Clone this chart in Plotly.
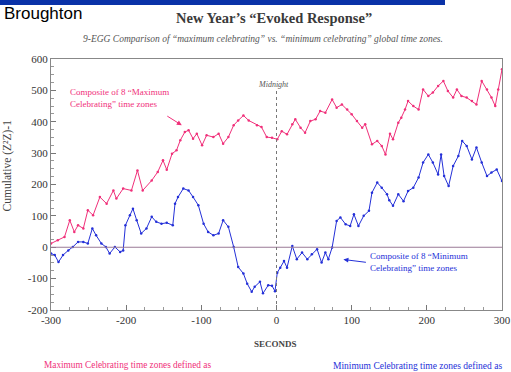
import plotly.graph_objects as go

# ---- data ----
max_x = [-300, -291, -282, -275, -269, -264, -257, -251, -244, -235, -226, -217, -213, -204, -193,
         -185, -178, -166, -158, -151, -146, -139, -133, -128, -122, -117, -111, -106, -99, -93,
         -84, -77, -71, -64, -57, -51, -44, -37, -26, -20, -13, -6, 1, 7, 14, 21, 25, 32, 38,
         45, 52, 58, 65, 74, 80, 87, 94, 100, 107, 114, 118, 127, 134, 140, 145, 151, 155, 162,
         166, 171, 175, 182, 189, 195, 202, 208, 215, 222, 228, 235, 240, 246, 253, 260, 266,
         273, 280, 286, 291, 295, 300]
max_y = [12, 22, 33, 86, 49, 70, 60, 118, 102, 160, 139, 181, 155, 187, 181,
         245, 181, 213, 240, 277, 247, 298, 309, 341, 367, 373, 346, 362, 325, 357,
         351, 362, 330, 351, 389, 404, 420, 404, 389, 383, 351, 349, 344, 370, 360, 392, 408, 381, 365,
         402, 408, 434, 429, 471, 445, 455, 439, 424, 402, 381, 392, 328, 339, 323, 296, 362, 344, 397,
         413, 439, 466, 450, 439, 503, 482, 493, 514, 530, 498, 477, 503, 482, 477, 466, 455,
         530, 503, 477, 450, 503, 567]

min_x = [-300, -295, -290, -284, -277, -271, -264, -257, -251, -245, -240, -233, -227, -222, -215,
         -208, -204, -201, -195, -191, -186, -180, -173, -166, -160, -153, -146, -138, -135, -131,
         -124, -117, -111, -104, -97, -91, -84, -77, -71, -64, -57, -51, -44, -39, -33, -29, -22,
         -18, -11, -6, -2, 1, 5, 10, 14, 21, 27, 34, 41, 47, 54, 60, 65, 69, 74, 80, 85, 92, 98,
         103, 109, 116, 123, 127, 134, 140, 147, 150, 155, 162, 169, 175, 182, 189, 195, 202, 208,
         215, 219, 223, 229, 235, 242, 247, 253, 260, 266, 273, 280, 286, 293, 300]
min_y = [-20, -25, -47, -25, -10, 1, 17, 17, 12, 60, 38, 12, 1, -20, 1,
         -15, -10, 70, 102, 123, 86, 44, 60, 97, 81, 75, 78, 70, 139, 160,
         187, 181, 160, 134, 75, 49, 38, 44, 86, 65, 1, -63, -84, -116, -142, -126, -110,
         -147, -121, -123, -140, -81, -65, -44, -65, 4, -38, -17, -38, -22, -6, -49, -17, -38, -1, 84, 95, 73, 68,
         105, 68, 100, 116, 174, 206, 190, 169, 150, 132, 169, 147, 179, 190, 222, 270, 296, 270,
         232, 296, 227, 195, 259, 291, 339, 323, 280, 318, 270, 227, 238, 248, 211]

x_ticks = [-300, -200, -100, 0, 100, 200, 300]
x_tick_labels = ["-300", "-200", "-100", "0", "100", "200", "300"]
y_ticks = [-200, -100, 0, 100, 200, 300, 400, 500, 600]
y_tick_labels = ["-200", "-100", "0", "100", "200", "300", "400", "500", "600"]

PINK = "#f0307a"
BLUE = "#2430d8"
SERIF = "Liberation Serif"

fig = go.Figure()
fig.add_trace(go.Scatter(x=max_x, y=max_y, mode="lines+markers",
                         line=dict(color=PINK, width=1), marker=dict(color=PINK, size=2.5),
                         showlegend=False, hoverinfo="skip"))
fig.add_trace(go.Scatter(x=min_x, y=min_y, mode="lines+markers",
                         line=dict(color=BLUE, width=1), marker=dict(color=BLUE, size=2.5),
                         showlegend=False, hoverinfo="skip"))

axis_common = dict(showline=True, mirror=True, linecolor="#888", linewidth=1, automargin=False,
                   ticks="inside", ticklen=5, tickcolor="#777", showgrid=False, zeroline=False,
                   tickfont=dict(family=SERIF, size=11, color="#333"),
                   minor=dict(ticks="inside", ticklen=3, tickcolor="#999", dtick=25))

fig.update_layout(
    width=511, height=372,
    margin=dict(l=51, r=9, t=59, b=62, autoexpand=False),
    paper_bgcolor="white", plot_bgcolor="white",
    xaxis=dict(range=[-300, 300], tickvals=x_ticks, ticktext=x_tick_labels, **axis_common),
    yaxis=dict(range=[-200, 600], tickvals=y_ticks, ticktext=y_tick_labels, **axis_common),
    shapes=[
        dict(type="rect", xref="paper", yref="paper", x0=-0.1131, x1=0.8736, y0=1.2151, y1=1.24,
             fillcolor="#0a32a8", line=dict(width=0)),
        dict(type="line", xref="x", yref="y", x0=-300, x1=300, y0=0, y1=0,
             line=dict(color="#9a7a96", width=1.2)),
        dict(type="line", xref="x", yref="y", x0=0, x1=0, y0=-200, y1=506,
             line=dict(color="#777", width=1, dash="dot")),
    ],
)

ann = []
ann.append(dict(xref="paper", yref="paper", x=-0.108, y=1.182, xanchor="left", yanchor="middle",
                text="Broughton", showarrow=False,
                font=dict(family="Liberation Sans", size=17, color="black")))
ann.append(dict(xref="paper", yref="paper", x=0.495, y=1.163, xanchor="center", yanchor="middle",
                text="<b>New Year’s “Evoked Response”</b>", showarrow=False,
                font=dict(family=SERIF, size=14.5, color="#3a3a3a")))
ann.append(dict(xref="paper", yref="paper", x=0.469, y=1.080, xanchor="center", yanchor="middle",
                text="<i>9-EGG Comparison of “maximum celebrating” vs. “minimum celebrating” global time zones.</i>",
                showarrow=False, font=dict(family=SERIF, size=9.5, color="#555")))
ann.append(dict(xref="x", yref="paper", x=-4, y=0.899, xanchor="center", yanchor="middle",
                text="<i>Midnight</i>", showarrow=False, font=dict(family=SERIF, size=8, color="#555")))
ann.append(dict(xref="paper", yref="paper", x=0.498, y=-0.135, xanchor="center", yanchor="middle",
                text="<b>SECONDS</b>", showarrow=False, font=dict(family=SERIF, size=9, color="#444")))
ann.append(dict(xref="paper", yref="paper", x=-0.096, y=0.575, xanchor="center", yanchor="middle",
                text="Cumulative (Z²Z)-1", textangle=-90, showarrow=False,
                font=dict(family=SERIF, size=11.5, color="#444")))
ann.append(dict(xref="paper", yref="paper", x=-0.02, y=-0.22, xanchor="left", yanchor="middle",
                text="Maximum Celebrating time zones defined as", showarrow=False,
                font=dict(family=SERIF, size=9.3, color=PINK)))
ann.append(dict(xref="paper", yref="paper", x=0.621, y=-0.224, xanchor="left", yanchor="middle",
                text="Minimum Celebrating time zones defined as", showarrow=False,
                font=dict(family=SERIF, size=9.5, color=BLUE)))
# series labels
ann.append(dict(xref="x", yref="y", x=-278, y=476, xanchor="left", yanchor="middle", align="left",
                text="Composite of 8 “Maximum<br>Celebrating” time zones", showarrow=False,
                font=dict(family=SERIF, size=9, color=PINK)))
ann.append(dict(xref="x", yref="y", x=-126, y=389, text="", showarrow=True, ax=-16, ay=-10,
                arrowhead=2, arrowsize=1, arrowwidth=1, arrowcolor=PINK))
ann.append(dict(xref="x", yref="y", x=122, y=-46, xanchor="left", yanchor="middle", align="left",
                text="Composite of 8 “Minimum<br>Celebrating” time zones", showarrow=False,
                font=dict(family=SERIF, size=9, color=BLUE)))
ann.append(dict(xref="x", yref="y", x=89, y=-39, text="", showarrow=True, ax=24, ay=3,
                arrowhead=2, arrowsize=1, arrowwidth=1, arrowcolor=BLUE))
fig.update_layout(annotations=ann)

fig.write_html("out.html", config={"displayModeBar": False},
               post_script="document.body.style.margin='0';document.body.style.overflow='hidden';")
